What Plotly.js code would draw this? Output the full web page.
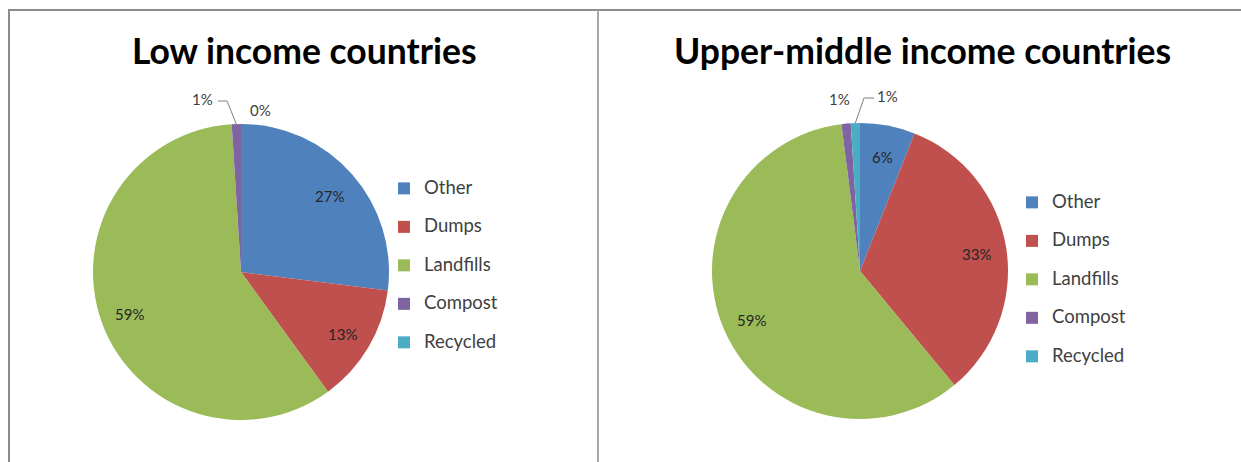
<!DOCTYPE html>
<html>
<head>
<meta charset="utf-8">
<script src="https://cdn.plot.ly/plotly-3.0.1.min.js"></script>
<style>
  html, body { margin: 0; padding: 0; background: #fff; }
  #chart { width: 1241px; height: 462px; }
</style>
</head>
<body>
<div id="chart"></div>
<script>
// ---- data ----
const categories = ['Other', 'Dumps', 'Landfills', 'Compost', 'Recycled'];
const lowIncomeShares = [27, 13, 59, 1, 0];
const upperMiddleShares = [6, 33, 59, 1, 1];
const chartTitles = ['Low income countries', 'Upper-middle income countries'];

// ---- styling ----
const sliceColors = ['#4F81BD', '#C0504D', '#9BBB59', '#8064A2', '#4BACC6'];
const W = 1241, H = 462;
const FONT = 'Lato, "Open Sans", sans-serif';

// pie geometry in pixels (center, radius)
const pies = [
  { cx: 241, cy: 272, r: 148 },
  { cx: 860, cy: 271, r: 148 }
];
function px(x) { return x / W; }
function py(y) { return 1 - y / H; }
function domainOf(p) {
  return { x: [px(p.cx - p.r), px(p.cx + p.r)], y: [py(p.cy + p.r), py(p.cy - p.r)] };
}
function total(vals) { return vals.reduce((a, b) => a + b, 0); }
function pct(vals, i) { return Math.round(vals[i] / total(vals) * 100) + '%'; }
// point at fraction f of the radius, at the middle angle of slice i (clockwise from 12 o'clock)
function slicePoint(p, vals, i, f) {
  const s = total(vals);
  let before = 0;
  for (let k = 0; k < i; k++) before += vals[k];
  const th = (before + vals[i] / 2) / s * 2 * Math.PI;
  return [p.cx + f * p.r * Math.sin(th), p.cy - f * p.r * Math.cos(th)];
}

const seriesList = [lowIncomeShares, upperMiddleShares];
const legendNames = ['legend', 'legend2'];

const traces = seriesList.map((vals, j) => ({
  type: 'pie',
  labels: categories.map(c => '<span style="font-size:18.5px">' + c + '</span><br> '),
  values: vals,
  sort: false,
  direction: 'clockwise',
  rotation: 0,
  domain: domainOf(pies[j]),
  marker: { colors: sliceColors, line: { width: 0 } },
  textinfo: 'none',
  hoverinfo: 'label+percent',
  legend: legendNames[j],
  legendgroup: 'g' + j,
  showlegend: true
}));

const annotations = [];
const shapes = [];

// titles
const titleCenters = [304, 922];
chartTitles.forEach((t, j) => {
  annotations.push({
    text: '<b>' + t + '</b>', x: px(titleCenters[j]), y: py(50),
    xref: 'paper', yref: 'paper', xanchor: 'center', yanchor: 'middle',
    showarrow: false, font: { family: FONT, size: 35.5, color: '#000' }
  });
});

// inside data labels (Excel "best fit": ~0.8 of radius on the slice bisector)
const inFont = { family: FONT, size: 15, color: '#262626' };
seriesList.forEach((vals, j) => {
  vals.forEach((v, i) => {
    if (v / total(vals) < 0.03) return;
    const pt = slicePoint(pies[j], vals, i, 0.8);
    annotations.push({ text: pct(vals, i), x: px(pt[0]), y: py(pt[1] + 2), xref: 'paper', yref: 'paper',
      showarrow: false, font: inFont, xanchor: 'center', yanchor: 'middle' });
  });
});

// small-slice labels outside, with leader lines
const outFont = { family: FONT, size: 15, color: '#404040' };
{
  const p = pies[0], v = lowIncomeShares;
  annotations.push({ text: pct(v, 3), x: px(202), y: py(99), xref: 'paper', yref: 'paper',
    showarrow: false, font: outFont, xanchor: 'center', yanchor: 'middle' });
  annotations.push({ text: pct(v, 4), x: px(260), y: py(110), xref: 'paper', yref: 'paper',
    showarrow: false, font: outFont, xanchor: 'center', yanchor: 'middle' });
  const rp = slicePoint(p, v, 3, 1);
  shapes.push({ type: 'path', xref: 'paper', yref: 'paper',
    path: `M${px(218)},${py(101)} L${px(227)},${py(101)} L${px(rp[0])},${py(rp[1])}`,
    line: { color: '#7f7f7f', width: 1 } });
}
{
  const p = pies[1], v = upperMiddleShares;
  annotations.push({ text: pct(v, 3), x: px(839), y: py(99), xref: 'paper', yref: 'paper',
    showarrow: false, font: outFont, xanchor: 'center', yanchor: 'middle' });
  annotations.push({ text: pct(v, 4), x: px(887), y: py(96), xref: 'paper', yref: 'paper',
    showarrow: false, font: outFont, xanchor: 'center', yanchor: 'middle' });
  const rp = slicePoint(p, v, 4, 1);
  shapes.push({ type: 'path', xref: 'paper', yref: 'paper',
    path: `M${px(874)},${py(98)} L${px(864)},${py(98)} L${px(rp[0])},${py(rp[1])}`,
    line: { color: '#7f7f7f', width: 1 } });
}

// panel frame lines
shapes.push({ type: 'line', xref: 'paper', yref: 'paper', x0: px(9), x1: px(9), y0: py(10), y1: 0,
  line: { color: '#8c8c8c', width: 2 } });
shapes.push({ type: 'line', xref: 'paper', yref: 'paper', x0: px(8), x1: 1, y0: py(10), y1: py(10),
  line: { color: '#8c8c8c', width: 2 } });
shapes.push({ type: 'line', xref: 'paper', yref: 'paper', x0: px(598), x1: px(598), y0: py(10), y1: 0,
  line: { color: '#a6a6a6', width: 2 } });

const legendCommon = {
  orientation: 'v', xanchor: 'left', yanchor: 'top', valign: 'top',
  bgcolor: 'rgba(0,0,0,0)', borderwidth: 0,
  font: { family: FONT, size: 13.65, color: '#404040' },
  itemclick: false, itemdoubleclick: false
};

const layout = {
  width: W, height: H,
  margin: { l: 0, r: 0, t: 0, b: 0 },
  paper_bgcolor: '#ffffff',
  plot_bgcolor: '#ffffff',
  font: { family: FONT },
  legend: Object.assign({}, legendCommon, { x: px(384), y: py(173) }),
  legend2: Object.assign({}, legendCommon, { x: px(1012), y: py(187) }),
  annotations: annotations,
  shapes: shapes
};

Plotly.newPlot('chart', traces, layout, { displayModeBar: false, staticPlot: true });
</script>
</body>
</html>
